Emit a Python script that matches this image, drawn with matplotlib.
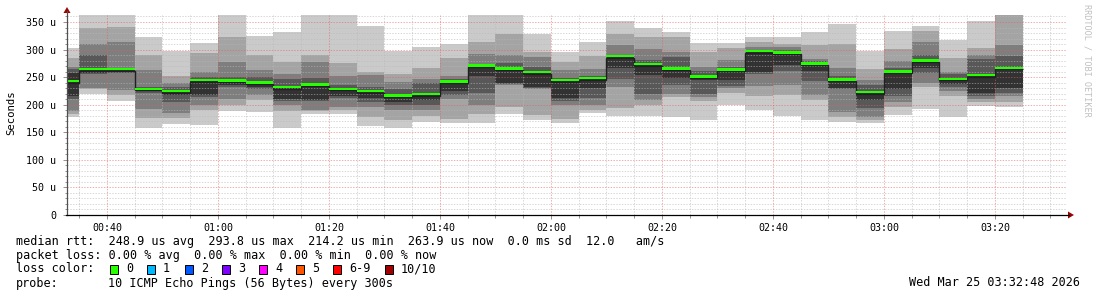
import matplotlib
matplotlib.use("Agg")
import matplotlib.pyplot as plt
import numpy as np
from matplotlib.patches import Polygon, Rectangle
from matplotlib.lines import Line2D

# time in minutes after midnight; graph spans 00:32:48 .. 03:32:48
start_min = 32.8
end_min = 212.8
bin_ends = list(range(35, 206, 5))          # 5 min bins ending 00:35 .. 03:25

# sorted ping rtts per bin (us), p01 = fastest, p10 = slowest
p01 = [178, 220, 207, 158, 165, 163, 188, 187, 157, 184, 184, 161, 158, 169, 166, 166, 184, 173,
       166, 185, 180, 180, 178, 172, 200, 190, 180, 172, 169, 166, 181, 193, 178, 197, 195]
p02 = [184, 228, 217, 176, 176, 190, 200, 208, 189, 188, 190, 178, 172, 180, 175, 184, 196, 181,
       175, 190, 194, 200, 214, 207, 222, 215, 218, 208, 178, 172, 196, 232, 216, 205, 205]
p03 = [189, 231, 227, 193, 185, 200, 210, 217, 200, 190, 196, 195, 190, 190, 210, 200, 236, 228,
       200, 200, 232, 208, 220, 214, 230, 234, 236, 218, 187, 178, 205, 240, 225, 210, 216]
p04 = [210, 255, 258, 221, 205, 214, 233, 228, 206, 206, 212, 205, 200, 200, 218, 221, 237, 231,
       206, 212, 246, 220, 236, 220, 234, 255, 262, 243, 228, 194, 215, 258, 232, 216, 222]
p05 = [216, 258, 260, 224, 218, 218, 236, 232, 210, 209, 216, 212, 205, 208, 225, 252, 239, 233,
       212, 230, 266, 253, 249, 244, 244, 260, 272, 261, 230, 208, 228, 266, 238, 221, 230]
p06 = [258, 265, 263, 228, 225, 245, 244, 240, 232, 238, 229, 225, 218, 219, 242, 270, 265, 258,
       244, 247, 288, 274, 266, 250, 263, 297, 294, 274, 246, 222, 259, 280, 246, 254, 267]
p07 = [265, 290, 265, 232, 232, 250, 250, 250, 246, 248, 236, 232, 228, 239, 246, 274, 275, 269,
       248, 252, 290, 281, 287, 262, 269, 300, 299, 280, 252, 235, 266, 290, 255, 282, 289]
p08 = [269, 310, 313, 263, 240, 260, 278, 263, 255, 278, 252, 254, 242, 247, 252, 292, 290, 287,
       263, 264, 308, 301, 295, 268, 281, 305, 304, 282, 266, 245, 280, 314, 260, 290, 308]
p09 = [284, 340, 341, 290, 252, 294, 322, 290, 278, 290, 276, 260, 256, 266, 284, 314, 329, 296,
       278, 288, 328, 323, 323, 296, 302, 313, 310, 308, 310, 265, 301, 334, 284, 302, 380]
p10 = [302, 370, 370, 322, 298, 312, 370, 325, 332, 370, 370, 343, 298, 304, 311, 370, 370, 329,
       296, 314, 352, 340, 331, 312, 312, 322, 322, 331, 346, 298, 334, 343, 317, 351, 400]
median = [240, 262, 262, 226, 222, 242, 241, 237, 229, 234, 226, 222, 214, 216, 239, 268, 263, 256,
          242, 245, 285, 271, 263, 248, 261, 294, 292, 272, 243, 220, 257, 277, 244, 251, 264]

y_ticks = [0, 50, 100, 150, 200, 250, 300, 350]
y_labels = ["0", "50 u", "100 u", "150 u", "200 u", "250 u", "300 u", "350 u"]
x_ticks = [40, 60, 80, 100, 120, 140, 160, 180, 200]
x_labels = ["00:40", "01:00", "01:20", "01:40", "02:00", "02:20", "02:40", "03:00", "03:20"]

stats_lines = [
    "median rtt:  248.9 us avg  293.8 us max  214.2 us min  263.9 us now  0.0 ms sd  12.0   am/s",
    "packet loss: 0.00 % avg  0.00 % max  0.00 % min  0.00 % now",
]
loss_labels = ["0", "1", "2", "3", "4", "5", "6-9", "10/10"]
loss_colors = ["#26ff00", "#00b8ff", "#0059ff", "#7e00ff", "#ff00ff", "#ff5500", "#ff0000", "#a10000"]
probe_text = "10 ICMP Echo Pings (56 Bytes) every 300s"
stamp_text = "Wed Mar 25 03:32:48 2026"

W, H = 1097, 297
MONO = "DejaVu Sans Mono"


def fx(px):
    return px / W


def fy(py):
    return 1 - py / H


fig = plt.figure(figsize=(W / 100, H / 100), dpi=100)
fig.patch.set_facecolor("white")
ax = fig.add_axes([fx(67), fy(215), (1066 - 67) / W, 200 / H])
ax.set_xlim(start_min, end_min)
ax.set_ylim(0, 362.7)

edges = np.array([start_min] + bin_ends, dtype=float)

# smoke: outer pair lightest, inner pair darkest
lows = [p01, p02, p03, p04, p05]
highs = [p10, p09, p08, p07, p06]
grays = ["#cacaca", "#a4a4a4", "#7e7e7e", "#585858", "#323232"]
for lo, hi, c in zip(lows, highs, grays):
    ax.stairs(hi, edges, baseline=lo, fill=True, color=c, lw=0, zorder=2)

# grid (dotted, on top of the smoke)
dots = (0, (1.4, 1.4))
for v in range(10, 361, 10):
    if v % 50:
        ax.axhline(v, color="#b8b8b8", alpha=0.55, lw=0.72, ls=dots, zorder=2.5)
for t in range(35, 213, 5):
    if t not in x_ticks:
        ax.axvline(t, color="#b8b8b8", alpha=0.55, lw=0.72, ls=dots, zorder=2.5)
for v in y_ticks[1:]:
    ax.axhline(v, color="#e06060", alpha=0.5, lw=0.72, ls=dots, zorder=2.6)
for t in x_ticks:
    ax.axvline(t, color="#e06060", alpha=0.5, lw=0.72, ls=dots, zorder=2.6)

# median: dark step line plus green marker
med = np.array(median, dtype=float)
ax.stairs(med, edges, baseline=None, color="#202020", lw=1.0, zorder=3)
ax.stairs(med + 5.2, edges, baseline=med + 0.8, fill=True, color="#26ff00", lw=0, zorder=4)

ax.set_yticks(y_ticks)
ax.set_yticklabels(y_labels)
ax.set_yticks(range(0, 361, 10), minor=True)
ax.set_xticks(x_ticks)
ax.set_xticklabels(x_labels)
ax.set_xticks(range(35, 213, 5), minor=True)
ax.tick_params(axis="both", which="both", labelsize=7.2, colors="#808080",
               labelcolor="black", width=0.6)
ax.tick_params(axis="y", which="major", length=3, pad=5)
ax.tick_params(axis="y", which="minor", length=1.5)
ax.tick_params(axis="x", which="major", length=3, pad=3)
ax.tick_params(axis="x", which="minor", length=2)
for lab in ax.get_xticklabels() + ax.get_yticklabels():
    lab.set_family(MONO)

for s in ["top", "right", "left", "bottom"]:
    ax.spines[s].set_visible(False)

# axis lines with arrow heads
fig.add_artist(Line2D([fx(67), fx(67)], [fy(215), fy(11)], color="#505050", lw=0.9))
fig.add_artist(Line2D([fx(66), fx(1069)], [fy(215), fy(215)], color="black", lw=0.9))
fig.add_artist(Polygon([[fx(63.5), fy(13)], [fx(70.5), fy(13)], [fx(67), fy(7)]],
                       closed=True, color="#a00000", lw=0))
fig.add_artist(Polygon([[fx(1068), fy(211.5)], [fx(1068), fy(218.5)], [fx(1074), fy(215)]],
                       closed=True, color="#a00000", lw=0))

fig.text(fx(11), fy(113), "Seconds", rotation=90, ha="center", va="center",
         fontsize=7.7, family=MONO)
fig.text(fx(1087), fy(4), "RRDTOOL / TOBI OETIKER", rotation=270, ha="center", va="top",
         fontsize=6.1, family=MONO, color="#c0c0c0")

# legend block
fig.text(fx(16), fy(241), stats_lines[0], va="center", fontsize=8.5, family=MONO)
fig.text(fx(16), fy(255), stats_lines[1], va="center", fontsize=8.5, family=MONO)
fig.text(fx(16), fy(269), "loss color:", va="center", fontsize=8.5, family=MONO)
box_x = [110, 147, 185, 222, 259, 296, 333, 385]
for bx, lab, col in zip(box_x, loss_labels, loss_colors):
    fig.add_artist(Rectangle((fx(bx), fy(273.5)), 8 / W, 9 / H, facecolor=col,
                             edgecolor="black", lw=0.7))
    fig.text(fx(bx + 16), fy(269), lab, va="center", fontsize=8.5, family=MONO)
fig.text(fx(16), fy(283), "probe:", va="center", fontsize=8.5, family=MONO)
fig.text(fx(108), fy(283), probe_text, va="center", fontsize=8.5, family=MONO)
fig.text(fx(1080), fy(283), stamp_text, va="center", ha="right", fontsize=8.5, family=MONO)

fig.savefig("out.png", dpi=100)
